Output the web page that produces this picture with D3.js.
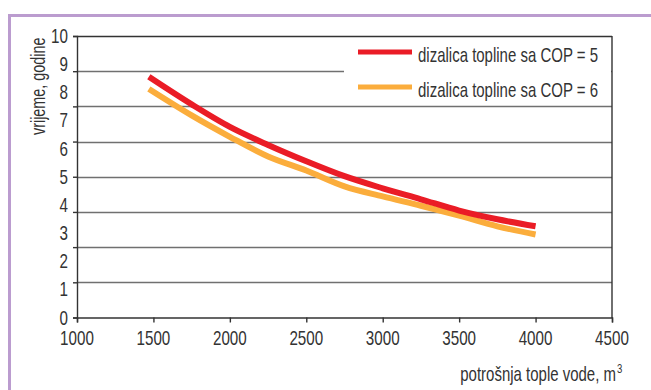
<!DOCTYPE html>
<html>
<head>
<meta charset="utf-8">
<script src="https://cdn.jsdelivr.net/npm/d3@7"></script>
<style>
  html, body { margin: 0; padding: 0; background: #fff; }
  svg { display: block; }
  text { font-family: "Liberation Sans", Arial, sans-serif; fill: #333; }
</style>
</head>
<body>
<svg id="chart" width="651" height="390"></svg>
<script>
// Hot water consumption (m³) against payback time (years)
const consumption = [1470, 1750, 2000, 2250, 2500, 2750, 3000, 3250, 3500, 3750, 4000];
const cop5 = [8.55, 7.57, 6.77, 6.13, 5.55, 5.02, 4.59, 4.20, 3.80, 3.49, 3.24];
const cop6 = [8.12, 7.18, 6.42, 5.72, 5.22, 4.66, 4.30, 3.97, 3.62, 3.24, 2.95];
const xTicks = [1000, 1500, 2000, 2500, 3000, 3500, 4000, 4500];
const yLabels = [0, 1, 2, 3, 4, 5, 6, 7, 8, 9, 10];
const gridValues = [0, 1.25, 2.5, 3.75, 5, 6.25, 7.5, 8.75, 10];
const seriesNames = ["dizalica topline sa COP = 5", "dizalica topline sa COP = 6"];
const seriesColors = ["#ea1c26", "#fbad3c"];

const svg = d3.select("#chart");
const fs = 20;
const narrow = 0.8; // horizontal squeeze for a condensed face

// Condensed label: anchored at (px, py), squeezed horizontally
function label(parent, px, py, str, opts = {}) {
  const anchor = opts.anchor || "start";
  const g = parent.append("g")
    .attr("transform", `translate(${px},${py})${opts.rotate ? " rotate(" + opts.rotate + ")" : ""} scale(${opts.sx || narrow},1)`);
  return g.append("text").attr("text-anchor", anchor)
    .attr("font-size", opts.size || fs).text(str);
}

// Outer frame: top and left rules only
svg.append("line").attr("x1", 9).attr("x2", 651).attr("y1", 15.5).attr("y2", 15.5)
  .attr("stroke", "#bb9ccf").attr("stroke-width", 3);
svg.append("line").attr("x1", 9.5).attr("x2", 9.5).attr("y1", 14).attr("y2", 390)
  .attr("stroke", "#bb9ccf").attr("stroke-width", 3);

const x = d3.scaleLinear().domain([1000, 4500]).range([77, 612]);
const y = d3.scaleLinear().domain([0, 10]).range([317.5, 36]);

// Horizontal grid
svg.append("g").selectAll("line").data(gridValues.slice(1, -1)).join("line")
  .attr("x1", x(1000)).attr("x2", x(4500))
  .attr("y1", d => Math.round(y(d)) + 0.5).attr("y2", d => Math.round(y(d)) + 0.5)
  .attr("stroke", "#707070").attr("stroke-width", 1.4);

// Legend panel covers the upper grid
const lg = svg.append("g");
lg.append("rect").attr("x", 344).attr("y", 37).attr("width", 267).attr("height", 68).attr("fill", "#fff");

// Plot box: top and right edges
svg.append("line").attr("x1", x(1000)).attr("x2", x(4500)).attr("y1", 36.5).attr("y2", 36.5)
  .attr("stroke", "#333").attr("stroke-width", 1.4);
svg.append("line").attr("x1", x(4500)).attr("x2", x(4500)).attr("y1", 36).attr("y2", 318)
  .attr("stroke", "#333").attr("stroke-width", 1.4);

// Y axis: ticks on the grid, integer labels on their own scale
const yAxis = d3.axisLeft(y).tickValues(gridValues).tickSize(4).tickFormat("");
const gy = svg.append("g").attr("transform", `translate(${x(1000)},0)`).call(yAxis);
gy.selectAll("path,line").attr("stroke", "#333").attr("stroke-width", 1.4);
const yl = svg.append("g");
yLabels.forEach(v => label(yl, 68, y(v) + 7, String(v), { anchor: "end", sx: 0.76 }));

// X axis (labels drawn below with the condensed helper)
const xAxis = d3.axisBottom(x).tickValues(xTicks).tickSize(5).tickFormat("");
const gx = svg.append("g").attr("transform", "translate(0,317.5)").call(xAxis);
gx.select(".domain").attr("stroke", "#333").attr("stroke-width", 1.4);
gx.selectAll(".tick line").attr("stroke", "#333").attr("stroke-width", 1.4);
const xl = svg.append("g");
xTicks.forEach(v => label(xl, x(v), 345, String(v), { anchor: "middle", sx: 0.76 }));

// Axis titles
label(svg, 616, 381, "potrošnja tople vode, m", { anchor: "end", sx: 0.75 });
label(svg, 617, 373, "3", { size: 12, sx: 0.8 });

label(svg, 45, 135, "vrijeme, godine", { rotate: -90, sx: 0.72 });

// Curves: COP 6 underneath, COP 5 on top
const line = d3.line().x((d, i) => x(consumption[i])).y(d => y(d)).curve(d3.curveMonotoneX);
svg.append("path").datum(cop6).attr("d", line)
  .attr("fill", "none").attr("stroke", seriesColors[1]).attr("stroke-width", 6);
svg.append("path").datum(cop5).attr("d", line)
  .attr("fill", "none").attr("stroke", seriesColors[0]).attr("stroke-width", 6);

// Legend entries
seriesNames.forEach((name, i) => {
  const ly = [52, 87][i];
  lg.append("line").attr("x1", 358).attr("x2", 412).attr("y1", ly).attr("y2", ly)
    .attr("stroke", seriesColors[i]).attr("stroke-width", 5);
  label(lg, 418, ly + 9.5, name, { sx: 0.75 });
});
</script>
</body>
</html>
